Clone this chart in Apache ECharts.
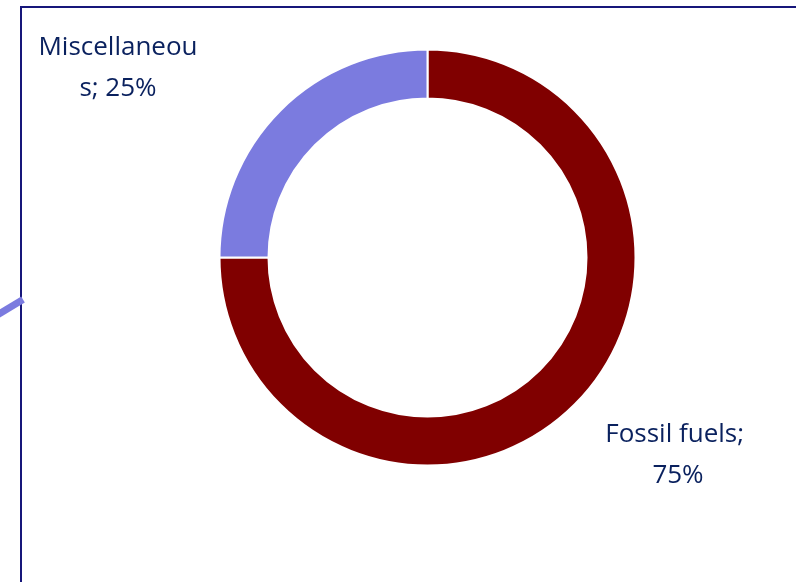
<!DOCTYPE html>
<html>
<head>
<meta charset="utf-8">
<script src="https://cdn.jsdelivr.net/npm/echarts@6/dist/echarts.min.js"></script>
<style>
  html, body { margin: 0; padding: 0; background: #ffffff; }
  #chart { width: 796px; height: 582px; }
</style>
</head>
<body>
<div id="chart"></div>
<script>
// Energy source shares
const categories = ['Fossil fuels', 'Miscellaneous'];
const shares = [75, 25];
const sliceColors = ['#800000', '#7b7bdf'];

const chart = echarts.init(document.getElementById('chart'), null, { renderer: 'canvas' });

const labelFont = '"Open Sans", "Noto Sans", sans-serif';

// label anchor points (centre of the text block) for each slice
const labelSpots = [
  { x: 678, y: 455 },
  { x: 118, y: 68 }
];

chart.setOption({
  animation: false,
  backgroundColor: '#ffffff',
  graphic: [
    {
      type: 'rect',
      shape: { x: 21, y: 7, width: 800, height: 600 },
      style: { fill: 'none', stroke: '#16167a', lineWidth: 2 },
      z: 10
    },
    {
      type: 'line',
      shape: { x1: -2, y1: 314.5, x2: 23, y2: 299.5 },
      style: { stroke: '#7b7bdf', lineWidth: 7 },
      z: 11
    }
  ],
  series: [{
    type: 'pie',
    center: [427.5, 257.5],
    radius: [159, 208],
    startAngle: 90,
    clockwise: true,
    avoidLabelOverlap: false,
    itemStyle: { borderColor: '#ffffff', borderWidth: 2 },
    label: {
      show: true,
      position: 'outside',
      formatter: '{b}; {d}%',
      width: 164,
      overflow: 'break',
      color: '#0a215e',
      fontFamily: labelFont,
      fontSize: 26,
      lineHeight: 41,
      align: 'center',
      verticalAlign: 'middle'
    },
    labelLine: { show: false },
    labelLayout: function (p) {
      const s = labelSpots[p.dataIndex];
      return { x: s.x, y: s.y, align: 'center', verticalAlign: 'middle' };
    },
    data: categories.map((name, i) => ({
      name: name,
      value: shares[i],
      itemStyle: { color: sliceColors[i] }
    }))
  }]
});
</script>
</body>
</html>
